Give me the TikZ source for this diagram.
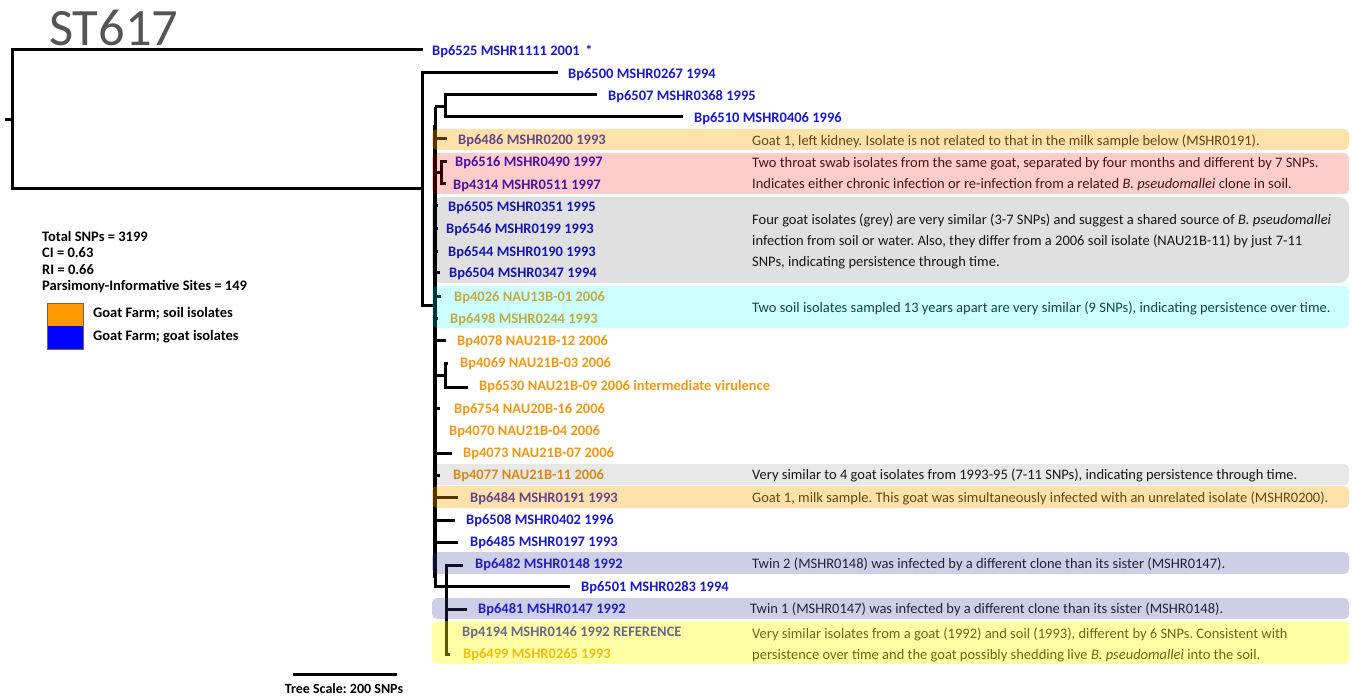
\documentclass[tikz,border=0pt]{standalone}
\usepackage{fontspec}
\setmainfont{Carlito}
\frenchspacing
\definecolor{gb}{RGB}{25,25,205}
\definecolor{so}{RGB}{240,152,20}
\definecolor{notec}{RGB}{25,25,25}
\definecolor{titlegray}{RGB}{85,85,85}
\definecolor{hlorange}{RGB}{255,165,0}
\definecolor{hlpink}{RGB}{255,0,0}
\definecolor{hlcyan}{RGB}{0,255,255}
\definecolor{hllav}{RGB}{60,60,160}
\definecolor{hlyellow}{RGB}{255,255,0}
\definecolor{legor}{RGB}{255,153,0}
\definecolor{legbl}{RGB}{0,0,255}
\begin{document}
\begin{tikzpicture}[x=1pt,y=-1pt,
  tree/.style={line width=3pt},
  lab/.style={anchor=west,inner sep=0pt,yshift=-1.5pt,font=\fontsize{14.5}{16}\selectfont\bfseries},
  goat/.style={lab,text=gb},
  soil/.style={lab,text=so},
  note/.style={anchor=west,inner sep=0pt,yshift=-1.5pt,align=left,text=notec,font=\fontsize{14.5}{21}\selectfont},
  legtxt/.style={anchor=west,inner sep=0pt,font=\fontsize{14.5}{16}\selectfont\bfseries},
  hl/.style={rounded corners=5pt}
]
\useasboundingbox (0,0) rectangle (1353,698);

% title
\node[anchor=west,inner sep=0pt,text=titlegray,font=\fontsize{52.5}{52}\selectfont] (title) at (49,28) {ST617};

% ---------- tree ----------
\draw[tree] (5,120) -- (12,120);
\draw[tree] (423,50) -| (12,189) -- (422,189);
\draw[tree] (558,73) -| (422,305) -- (435,305);
\draw[tree] (435,107) -- (435,586) -- (570,586);
\draw[line width=4.5pt] (435,125) -- (435,578);
\draw[tree] (435,107) -- (445,107);
\draw[tree] (597,95) -| (445,117) -- (683,117);
\draw[tree] (435,139) -- (447,139);
\draw[tree] (435,173) -- (441,173);
\draw[tree] (447,162) -| (441,184) -- (446,184);
\draw[tree] (435,206) -- (438,206);
\draw[tree] (435,228) -- (438,228);
\draw[tree] (435,251) -- (438,251);
\draw[tree] (435,272) -- (440,272);
\draw[tree] (435,296) -- (441,296);
\draw[tree] (435,318) -- (438,318);
\draw[tree] (435,340) -- (446,340);
\draw[tree] (435,375) -- (445,375);
\draw[tree] (448,363) -| (445,387) -- (468,387);
\draw[tree] (435,408) -- (440,408);
\draw[tree] (435,453) -- (452,453);
\draw[tree] (435,475) -- (440,475);
\draw[tree] (435,497) -- (458,497);
\draw[tree] (435,520) -- (455,520);
\draw[tree] (435,542) -- (458,542);
\draw[tree] (463,565) -| (446,654) -- (450,654);
\draw[tree] (446,609) -- (467,609);
\draw[tree] (446,631) -- (448,631);

% ---------- tip labels ----------
\node[goat] (t6525) at (432,50) {Bp6525 MSHR1111 2001 \,*};
\node[goat] (t6500) at (568,73) {Bp6500 MSHR0267 1994};
\node[goat] (t6507) at (608,95) {Bp6507 MSHR0368 1995};
\node[goat] (t6510) at (694,117) {Bp6510 MSHR0406 1996};
\node[goat] (t6486) at (458,139) {Bp6486 MSHR0200 1993};
\node[goat] (t6516) at (455,161) {Bp6516 MSHR0490 1997};
\node[goat] (t4314) at (453,184) {Bp4314 MSHR0511 1997};
\node[goat] (t6505) at (448,206) {Bp6505 MSHR0351 1995};
\node[goat] (t6546) at (446,228) {Bp6546 MSHR0199 1993};
\node[goat] (t6544) at (448,251) {Bp6544 MSHR0190 1993};
\node[goat] (t6504) at (449,272) {Bp6504 MSHR0347 1994};
\node[soil] (t4026) at (454,296) {Bp4026 NAU13B-01 2006};
\node[soil] (t6498) at (450,318) {Bp6498 MSHR0244 1993};
\node[soil] (t4078) at (457,340) {Bp4078 NAU21B-12 2006};
\node[soil] (t4069) at (460,362) {Bp4069 NAU21B-03 2006};
\node[soil] (t6530) at (479,385) {Bp6530 NAU21B-09 2006 intermediate virulence};
\node[soil] (t6754) at (454,408) {Bp6754 NAU20B-16 2006};
\node[soil] (t4070) at (449,430) {Bp4070 NAU21B-04 2006};
\node[soil] (t4073) at (463,452) {Bp4073 NAU21B-07 2006};
\node[soil] (t4077) at (453,474) {Bp4077 NAU21B-11 2006};
\node[goat] (t6484) at (470,497) {Bp6484 MSHR0191 1993};
\node[goat] (t6508) at (466,519) {Bp6508 MSHR0402 1996};
\node[goat] (t6485) at (470,541) {Bp6485 MSHR0197 1993};
\node[goat] (t6482) at (475,563) {Bp6482 MSHR0148 1992};
\node[goat] (t6501) at (581,586) {Bp6501 MSHR0283 1994};
\node[goat] (t6481) at (478,608) {Bp6481 MSHR0147 1992};
\node[goat] (t4194) at (462,631) {Bp4194 MSHR0146 1992 REFERENCE};
\node[soil] (t6499) at (463,653) {Bp6499 MSHR0265 1993};

% ---------- notes ----------
\node[note] (n1) at (752,140) {Goat 1, left kidney. Isolate is not related to that in the milk sample below (MSHR0191).};
\node[note] (n2) at (752,173) {Two throat swab isolates from the same goat, separated by four months and different by 7 SNPs.\\Indicates either chronic infection or re-infection from a related \textit{B. pseudomallei} clone in soil.};
\node[note] (n3) at (752,240) {Four goat isolates (grey) are very similar (3-7 SNPs) and suggest a shared source of \textit{B. pseudomallei}\\infection from soil or water. Also, they differ from a 2006 soil isolate (NAU21B-11) by just 7-11\\SNPs, indicating persistence through time.};
\node[note] (n4) at (752,307) {Two soil isolates sampled 13 years apart are very similar (9 SNPs), indicating persistence over time.};
\node[note] (n5) at (752,474) {Very similar to 4 goat isolates from 1993-95 (7-11 SNPs), indicating persistence through time.};
\node[note] (n6) at (752,497) {Goat 1, milk sample. This goat was simultaneously infected with an unrelated isolate (MSHR0200).};
\node[note] (n7) at (752,563) {Twin 2 (MSHR0148) was infected by a different clone than its sister (MSHR0147).};
\node[note] (n8) at (750,608) {Twin 1 (MSHR0147) was infected by a different clone than its sister (MSHR0148).};
\node[note] (n9) at (752,643) {Very similar isolates from a goat (1992) and soil (1993), different by 6 SNPs. Consistent with\\persistence over time and the goat possibly shedding live \textit{B. pseudomallei} into the soil.};

% ---------- highlight boxes (overlaid) ----------
\fill[hl,hlorange,fill opacity=.33] (432,129) rectangle (1349,150);
\fill[hl,hlpink,fill opacity=.2] (432,153) rectangle (1349,194);
\fill[black,fill opacity=.12,rounded corners=10pt] (432,197) rectangle (1349,283);
\fill[hl,hlcyan,fill opacity=.2] (432,286) rectangle (1349,328);
\fill[hl,black,fill opacity=.09] (432,464) rectangle (1349,485);
\fill[hl,hlorange,fill opacity=.33] (432,486) rectangle (1349,508);
\fill[hl,hllav,fill opacity=.25] (432,552) rectangle (1349,574);
\fill[hl,hllav,fill opacity=.25] (432,598) rectangle (1349,619);
\fill[hl,hlyellow,fill opacity=.35] (432,621) rectangle (1349,664);

% ---------- legend ----------
\node[legtxt] (s1) at (42,236) {Total SNPs = 3199};
\node[legtxt] (s2) at (42,253) {CI = 0.63};
\node[legtxt] (s3) at (42,270) {RI = 0.66};
\node[legtxt] (s4) at (42,287) {Parsimony-Informative Sites = 149};
\fill[legor] (47,303) rectangle (83,326);
\fill[legbl] (47,326) rectangle (83,349);
\draw[black!60,line width=0.6pt] (47,303) rectangle (83,349);
\node[legtxt] (l1) at (93,313) {Goat Farm; soil isolates};
\node[legtxt] (l2) at (93,337) {Goat Farm; goat isolates};

% ---------- scale ----------
\draw[line width=3pt] (293,674) -- (397,674);
\node[inner sep=0pt,font=\fontsize{14}{16}\selectfont\bfseries] (scale) at (344,689) {Tree Scale: 200 SNPs};
\end{tikzpicture}
\end{document}
